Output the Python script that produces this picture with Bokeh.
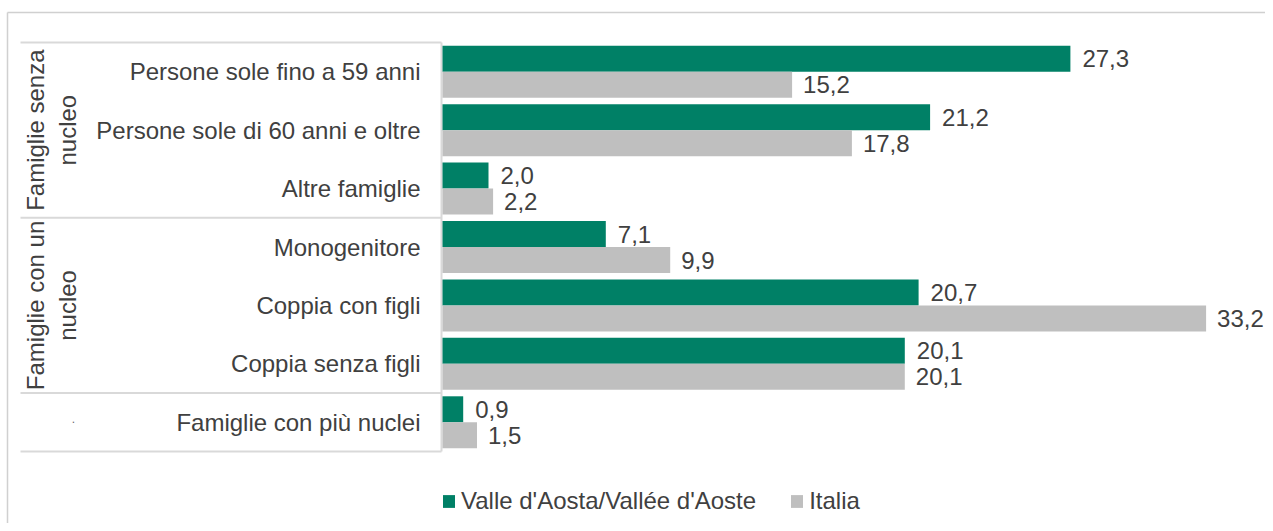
from bokeh.plotting import figure
from bokeh.models import ColumnDataSource, Range1d, Legend, LegendItem
from bokeh.core.properties import value
from bokeh.embed import file_html
from bokeh.resources import INLINE
import math

# ---------------- data ----------------
categories = ["Persone sole fino a 59 anni", "Persone sole di 60 anni e oltre", "Altre famiglie",
              "Monogenitore", "Coppia con figli", "Coppia senza figli", "Famiglie con più nuclei"]
groups = ["Famiglie senza\nnucleo", "Famiglie senza\nnucleo", "Famiglie senza\nnucleo",
          "Famiglie con un\nnucleo", "Famiglie con un\nnucleo", "Famiglie con un\nnucleo", "."]
series_names = ["Valle d'Aosta/Vallée d'Aoste", "Italia"]
vda = [27.3, 21.2, 2.0, 7.1, 20.7, 20.1, 0.9]
ita = [15.2, 17.8, 2.2, 9.9, 33.2, 20.1, 1.5]

# ---------------- layout ----------------
W, H = 1265, 523
X0 = 442.0        # px of value 0
SX = 23.0         # px per unit
ROW_TOP = 42.0    # px from top of first row
ROW_H = 58.43     # px per row
n = len(categories)

def dx(px):
    return (px - X0) / SX

def dy(py):
    return (py - ROW_TOP) / ROW_H

FONT = "Liberation Sans"
FS = "24px"
TXT = "#404040"
GREEN = "#008066"
GREY = "#BFBFBF"
LINE = "#D9D9D9"

p = figure(width=W, height=H, output_backend="svg", toolbar_location=None,
           x_range=Range1d(dx(0), dx(W)), y_range=Range1d(dy(H), dy(0)),
           x_axis_location=None, y_axis_location=None,
           min_border=0, min_border_left=0, min_border_right=0,
           min_border_top=0, min_border_bottom=0)
p.outline_line_color = None
p.xgrid.visible = False
p.ygrid.visible = False
p.background_fill_color = "white"
p.border_fill_color = "white"

bh = 26 / ROW_H
idx = list(range(n))
src = ColumnDataSource(dict(
    cat=categories,
    yc=[i + 0.5 for i in idx],
    yv=[i + 0.5 - bh / 2 for i in idx],
    yi=[i + 0.5 + bh / 2 for i in idx],
    vda=vda, ita=ita,
    vda_lab=[f"{v:.1f}".replace(".", ",") for v in vda],
    ita_lab=[f"{v:.1f}".replace(".", ",") for v in ita],
))

# outer border (left + top)
p.segment(x0=[dx(7), dx(7)], y0=[dy(12), dy(12)], x1=[dx(W), dx(7)], y1=[dy(12), dy(H)],
          line_color="#D0D0D0", line_width=1.5)

# table lines
boundaries = [0]
for i in range(1, n):
    if groups[i] != groups[i - 1]:
        boundaries.append(i)
boundaries.append(n)
p.segment(x0=[dx(20)] * len(boundaries), x1=[dx(441)] * len(boundaries),
          y0=boundaries, y1=boundaries, line_color=LINE, line_width=2)
p.segment(x0=[dx(441)], x1=[dx(441)], y0=[0], y1=[n], line_color=LINE, line_width=2)

# bars
r1 = p.hbar(y="yv", left=0, right="vda", height=bh, source=src, fill_color=GREEN, line_color=None)
r2 = p.hbar(y="yi", left=0, right="ita", height=bh, source=src, fill_color=GREY, line_color=None)

# value labels
p.text(x="vda", y="yv", text="vda_lab", source=src, x_offset=12, text_align="left",
       text_baseline="middle", text_font=value(FONT), text_font_size=FS, text_color=TXT)
p.text(x="ita", y="yi", text="ita_lab", source=src, x_offset=11, text_align="left",
       text_baseline="middle", text_font=value(FONT), text_font_size=FS, text_color=TXT)

# category labels
p.text(x=dx(420), y="yc", text="cat", source=src, text_align="right", text_baseline="middle",
       text_font=value(FONT), text_font_size=FS, text_color=TXT)

# group labels
g_names, g_y = [], []
for a, b in zip(boundaries[:-1], boundaries[1:]):
    g_names.append(groups[a])
    g_y.append((a + b) / 2)
big = [g for g in g_names if g != "."]
big_y = [y for g, y in zip(g_names, g_y) if g != "."]
p.text(x=[dx(51)] * len(big), y=big_y, text=big, angle=math.pi / 2, text_align="center",
       text_baseline="middle", text_font=value(FONT), text_font_size=FS, text_color=TXT,
       text_line_height=1.2)
dots = [g for g in g_names if g == "."]
dot_y = [y for g, y in zip(g_names, g_y) if g == "."]
p.text(x=[dx(69)] * len(dots), y=dot_y, text=dots, angle=math.pi / 2, text_align="center",
       text_baseline="middle", text_font=value(FONT), text_font_size="11px", text_color=TXT)

legend = Legend(items=[LegendItem(label=series_names[0], renderers=[r1]),
                       LegendItem(label=series_names[1], renderers=[r2])],
                orientation="horizontal", location=(441, 8),
                glyph_width=15, glyph_height=16, label_standoff=5, spacing=33,
                padding=0, margin=0, border_line_color=None, background_fill_alpha=0,
                label_text_font=FONT, label_text_font_size=FS, label_text_color=TXT)
p.add_layout(legend)

open("out.html", "w").write(file_html(p, INLINE))
